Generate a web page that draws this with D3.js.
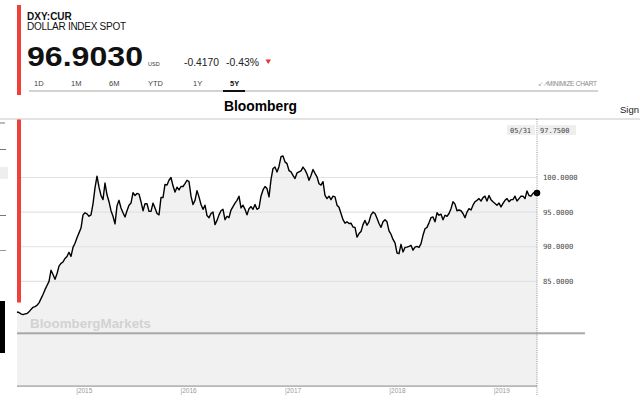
<!DOCTYPE html>
<html><head><meta charset="utf-8">
<script src="https://cdn.jsdelivr.net/npm/d3@7"></script>
<style>
html,body{margin:0;padding:0;background:#fff;overflow:hidden;}
svg{display:block;font-family:"Liberation Sans",Arial,sans-serif;}
</style></head>
<body>
<svg id="c" width="640" height="408"></svg>
<script>
// ---- data ----
const ticker = "DXY:CUR";
const title = "DOLLAR INDEX SPOT";
const lastPrice = "96.9030";
const currency = "USD";
const change = "-0.4170";
const changePct = "-0.43%";
const tabs = ["1D","1M","6M","YTD","1Y","5Y"];
const activeTab = "5Y";
const startDate = "2014-06-06";   // weekly closes, Fridays
const endLabelDate = "05/31";
const endLabelValue = "97.7500";
const yTicks = [85, 90, 95, 100];
const yearTicks = [2015, 2016, 2017, 2018, 2019];
const values = [
80.58,80.5,80.3,80.2,80.3,80.35,80.6,80.95,81.25,81.35,
81.55,81.9,82.5,83.1,83.8,84.4,85.0,86.6,86.0,85.3,
86.1,87.2,87.6,87.8,88.3,88.6,89.2,88.6,89.9,90.5,
91.3,92.0,92.7,94.6,94.9,94.75,94.4,94.6,96.2,98.5,
100.2,98.6,97.4,96.8,99.2,97.5,96.5,95.2,94.4,93.3,
95.9,96.7,95.6,94.9,94.3,95.2,96.0,96.3,97.8,97.4,
97.7,97.6,96.5,95.2,96.2,96.2,95.1,95.1,96.3,95.6,
94.8,94.6,97.1,97.1,99.0,98.9,99.6,100.0,98.8,97.9,
98.6,98.2,98.7,98.7,99.1,99.6,99.4,97.3,96.1,96.7,
98.1,97.2,96.1,95.4,96.0,94.5,94.2,94.8,95.0,93.2,
93.8,94.6,95.2,95.4,93.9,94.4,94.2,95.3,95.8,96.3,
96.7,97.3,95.6,96.0,95.4,94.6,95.5,95.8,95.4,96.1,
95.4,95.6,97.3,98.2,98.7,98.4,97.2,99.7,101.3,101.5,
100.8,101.6,103.0,103.1,102.25,102.0,101.0,100.8,100.3,99.85,
100.65,100.8,100.95,101.5,101.1,100.5,99.6,100.3,101.15,100.6,
100.1,99.1,98.9,99.4,97.4,96.95,97.3,96.8,97.3,97.2,
96.0,95.7,94.8,93.9,93.4,93.6,93.35,93.4,92.85,92.8,
91.4,91.9,92.2,93.2,93.8,93.1,93.6,94.6,95.0,94.8,
94.1,93.35,92.8,93.6,93.9,93.6,92.3,91.8,91.05,90.55,
89.1,89.0,90.35,89.25,89.9,89.95,90.05,90.2,89.5,89.95,
90.05,89.9,90.45,91.65,92.6,92.8,93.45,94.2,94.3,93.6,
94.9,94.55,94.7,93.9,94.55,94.4,94.8,95.5,96.5,96.15,
95.2,95.3,95.2,94.8,94.2,95.0,95.5,95.3,96.0,96.5,
96.7,96.95,96.6,97.1,97.3,96.6,97.4,96.8,96.5,96.25,
96.0,96.3,95.75,96.25,96.7,96.95,96.5,96.8,96.8,97.3,
96.6,96.95,97.3,97.3,96.95,98.05,97.4,97.3,97.7,97.9,
97.75];

// ---- build ----
const parse = d3.timeParse("%Y-%m-%d");
const t0 = parse(startDate);
const data = values.map((v,i)=>({date:d3.timeWeek.offset(t0,i), value:v}));
const svg = d3.select("#c");

const x = d3.scaleTime().domain([data[0].date, data[data.length-1].date]).range([17,537]);
const y = d3.scaleLinear().domain([77.5,108.3]).range([333.3,120]);

// header
svg.append("rect").attr("x",17).attr("y",5).attr("width",4).attr("height",90).attr("fill","#f0403c");
svg.append("text").attr("x",27).attr("y",19.5).attr("font-size",10).attr("font-weight","bold").attr("fill","#111").text(ticker);
svg.append("text").attr("x",27).attr("y",29.5).attr("font-size",10).attr("fill","#111").attr("textLength",99).text(title);
svg.append("text").attr("x",27).attr("y",66).attr("font-size",27).attr("font-weight","bold").attr("fill","#111")
  .attr("textLength",116).attr("lengthAdjust","spacingAndGlyphs").text(lastPrice);
svg.append("text").attr("x",148).attr("y",65.5).attr("font-size",5.5).attr("fill","#333").text(currency);
svg.append("text").attr("x",184).attr("y",66).attr("font-size",10).attr("fill","#222")
  .attr("textLength",35).attr("lengthAdjust","spacingAndGlyphs").text(change);
svg.append("text").attr("x",226).attr("y",66).attr("font-size",10).attr("fill","#222")
  .attr("textLength",33).attr("lengthAdjust","spacingAndGlyphs").text(changePct);
svg.append("path").attr("d","M265.5,59.5L271,59.5L268.25,64Z").attr("fill","#e8332f");

const tabX = [34,71,109,148,193,230];
tabs.forEach((t,i)=>{
  svg.append("text").attr("x",tabX[i]).attr("y",86).attr("font-size",7.5)
    .attr("font-weight", t===activeTab?"bold":"normal").attr("fill", t===activeTab?"#111":"#444").text(t);
});
svg.append("rect").attr("x",29).attr("y",90).attr("width",569).attr("height",2).attr("fill","#d3d3d3");
svg.append("rect").attr("x",223).attr("y",90).attr("width",22).attr("height",2).attr("fill","#111");
svg.append("text").attr("x",538).attr("y",85.5).attr("font-size",6).attr("fill","#999").text("\u2199\u2197");
svg.append("text").attr("x",547).attr("y",85.5).attr("font-size",6.5).attr("fill","#888")
  .attr("textLength",50).text("MINIMIZE CHART");

svg.append("text").attr("x",224).attr("y",110.5).attr("font-size",14).attr("font-weight","900").attr("fill","#000")
  .attr("textLength",73).attr("lengthAdjust","spacingAndGlyphs").text("Bloomberg");
svg.append("text").attr("x",620).attr("y",112.5).attr("font-size",9.5).attr("fill","#222").text("Sign In");
svg.append("rect").attr("x",0).attr("y",118.5).attr("width",640).attr("height",1).attr("fill","#c8c8c8");

// left page remnants
svg.append("rect").attr("x",0).attr("y",122).attr("width",5).attr("height",2).attr("fill","#bbb");
svg.append("rect").attr("x",0).attr("y",149).attr("width",6).attr("height",1).attr("fill","#777");
svg.append("rect").attr("x",0).attr("y",167).attr("width",8).attr("height",12).attr("fill","#eee");
svg.append("rect").attr("x",0).attr("y",215).attr("width",6).attr("height",1).attr("fill","#777");
svg.append("rect").attr("x",0).attr("y",250).attr("width",6).attr("height",1).attr("fill","#999");
svg.append("rect").attr("x",0).attr("y",301).attr("width",5).attr("height",52).attr("fill","#000");

// lower panel
svg.append("rect").attr("x",17).attr("y",334).attr("width",520).attr("height",52).attr("fill","#f1f1f1");
svg.append("rect").attr("x",17).attr("y",385.5).attr("width",520).attr("height",1.2).attr("fill","#999");

// area + gridlines
const area = d3.area().x(d=>x(d.date)).y0(333.3).y1(d=>y(d.value));
svg.append("path").datum(data).attr("d",area).attr("fill","#f1f1f1");
svg.append("g").selectAll("line").data(yTicks).join("line")
  .attr("x1",17).attr("x2",537).attr("y1",d=>y(d)).attr("y2",d=>y(d))
  .attr("stroke","#e2e2e2").attr("stroke-width",1.2);

svg.append("text").attr("x",30).attr("y",328).attr("font-size",13).attr("font-weight","bold").attr("fill","#d2d2d2")
  .attr("textLength",121).attr("lengthAdjust","spacingAndGlyphs").text("BloombergMarkets");

const line = d3.line().x(d=>x(d.date)).y(d=>y(d.value));
svg.append("path").datum(data).attr("d",line).attr("fill","none").attr("stroke","#000").attr("stroke-width",1.4)
  .attr("stroke-linejoin","round");

// red bar
svg.append("rect").attr("x",17).attr("y",119.5).attr("width",4).attr("height",183).attr("fill","#f0403c");

// bottom thick line
svg.append("rect").attr("x",17).attr("y",332.3).attr("width",568).attr("height",2).attr("fill","#a8a8a8");

// dotted crosshair
const last = data[data.length-1];
svg.append("line").attr("x1",x(last.date)).attr("x2",x(last.date)).attr("y1",119).attr("y2",396)
  .attr("stroke","#777").attr("stroke-width",0.8).attr("stroke-dasharray","1,1.2");
svg.append("circle").attr("cx",x(last.date)).attr("cy",y(last.value)).attr("r",3.3).attr("fill","#000");

// end labels
svg.append("rect").attr("x",507).attr("y",125).attr("width",28).attr("height",10).attr("fill","#eee");
svg.append("rect").attr("x",538).attr("y",125).attr("width",38).attr("height",10).attr("fill","#eee");
svg.append("text").attr("x",510).attr("y",132.5).attr("font-family","DejaVu Sans Mono").attr("font-size",7)
  .attr("fill","#444").text(endLabelDate);
svg.append("text").attr("x",540).attr("y",132.5).attr("font-family","DejaVu Sans Mono").attr("font-size",7)
  .attr("fill","#444").text(endLabelValue);

// y labels
svg.append("g").selectAll("text").data(yTicks).join("text")
  .attr("x",543).attr("y",d=>y(d)+2.5).attr("font-family","DejaVu Sans Mono").attr("font-size",7.2)
  .attr("fill","#444").text(d=>d3.format(".4f")(d));

// year labels
svg.append("g").selectAll("text").data(yearTicks).join("text")
  .attr("x",d=>x(new Date(d,0,1))-0.5).attr("y",393).attr("font-size",6.5).attr("fill","#999")
  .text(d=>"|"+d);
</script>
</body></html>
